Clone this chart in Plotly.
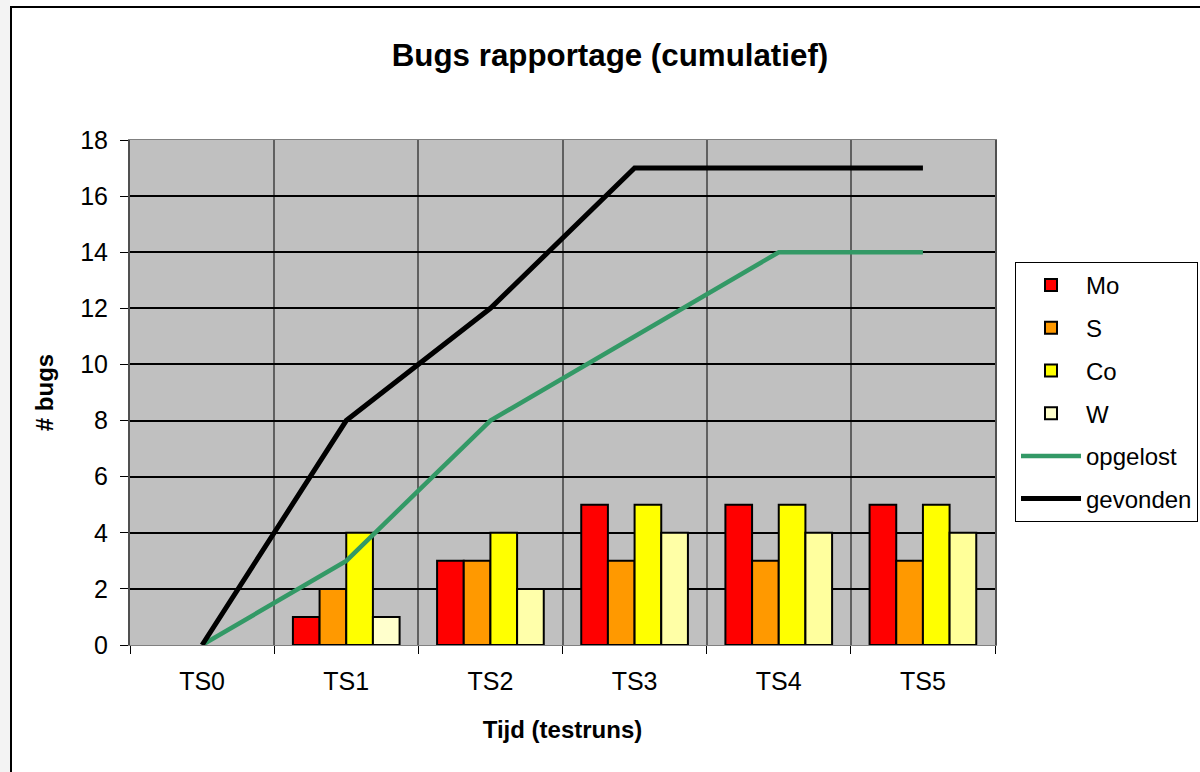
import plotly.graph_objects as go

categories = ["TS0", "TS1", "TS2", "TS3", "TS4", "TS5"]
mo = [None, 1, 3, 5, 5, 5]
s_vals = [None, 2, 3, 3, 3, 3]
co = [None, 4, 4, 5, 5, 5]
w = [None, 1, 2, 4, 4, 4]
opgelost = [0, 3, 8, 11, 14, 14]
gevonden = [0, 8, 12, 17, 17, 17]
y_ticks = [0, 2, 4, 6, 8, 10, 12, 14, 16, 18]

FONT = "Arial, Liberation Sans, sans-serif"

fig = go.Figure()
bar_specs = [
    ("Mo", mo, "#FF0000"),
    ("S", s_vals, "#FF9900"),
    ("Co", co, "#FFFF00"),
    ("W", w, ["#FFFFCC", "#FFFFCC", "#FFFFAA", "#FFFFA6", "#FFFF9E", "#FFFF99"]),
]
for name, vals, col in bar_specs:
    fig.add_trace(go.Bar(
        x=categories, y=vals, name=name, legendgroup=name,
        marker=dict(color=col, line=dict(color="black", width=2)),
    ))
fig.add_trace(go.Scatter(
    x=categories, y=opgelost, name="opgelost", legendgroup="opgelost",
    mode="lines", line=dict(color="#339966", width=4.5),
))
fig.add_trace(go.Scatter(
    x=categories, y=gevonden, name="gevonden", legendgroup="gevonden",
    mode="lines", line=dict(color="black", width=5),
))

L, R, T, B = 130, 205, 140, 127
W_, H_ = 1200, 772
pw, ph = W_ - L - R, H_ - T - B

def px(xp):
    return (xp - L) / pw

def py(yp):
    return (H_ - B - yp) / ph

fig.update_layout(
    width=W_, height=H_,
    margin=dict(l=L, r=R, t=T, b=B, pad=0, autoexpand=False),
    paper_bgcolor="white",
    plot_bgcolor="#C0C0C0",
    font=dict(family=FONT, size=24, color="black"),
    title=dict(text="<b>Bugs rapportage (cumulatief)</b>", x=610 / W_, xanchor="center",
               y=1 - 55 / H_, yanchor="middle", font=dict(size=31.3)),
    barmode="group",
    bargap=0.26,
    bargroupgap=0,
    showlegend=True,
    legend=dict(
        xref="container", yref="container",
        x=1015 / W_, y=1 - 262 / H_, xanchor="left", yanchor="top",
        bgcolor="white", bordercolor="black", borderwidth=1,
        font=dict(size=24), tracegroupgap=8.5, itemwidth=60,
        traceorder="grouped",
    ),
    xaxis=dict(
        type="category", tickson="boundaries", showgrid=True, gridcolor="#606060", gridwidth=2,
        ticks="outside", ticklen=8, tickcolor="black", tickwidth=1,
        showline=True, linecolor="#808080", linewidth=1, mirror=True,
        tickfont=dict(size=25),
        title=dict(text="<b>Tijd (testruns)</b>", font=dict(size=24), standoff=27),
        ticklabelstandoff=14,
    ),
    yaxis=dict(
        range=[0, 18], tickvals=y_ticks, showgrid=True, gridcolor="black", gridwidth=2,
        ticks="outside", ticklen=8, tickcolor="black", tickwidth=1,
        showline=True, linecolor="#505050", linewidth=2, mirror=True, zeroline=False,
        tickfont=dict(size=25), ticklabelstandoff=7,
        title=dict(text="<b># bugs</b>", font=dict(size=24), standoff=20),
    ),
    shapes=[
        dict(type="rect", xref="paper", yref="paper", x0=px(-5), x1=px(10), y0=py(800), y1=py(-5),
             fillcolor="#F3F3F3", line=dict(width=0), layer="below"),
        dict(type="rect", xref="paper", yref="paper", x0=px(11), x1=px(1230), y0=py(800), y1=py(7),
             fillcolor="rgba(0,0,0,0)", line=dict(color="black", width=2), layer="above"),
    ],
)

fig.write_html("out.html", config={"displayModeBar": False},
               post_script="document.body.style.margin='0';document.body.style.overflow='hidden';")
